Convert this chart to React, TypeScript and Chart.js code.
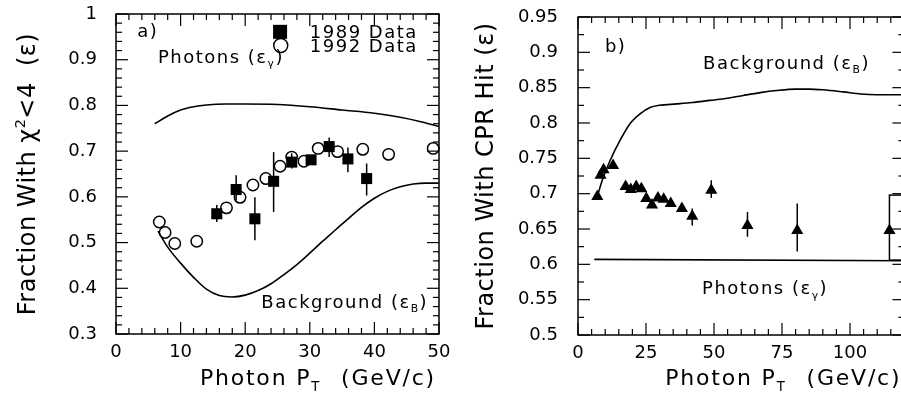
import React, { useEffect, useRef } from "react";
import { Chart, registerables } from "chart.js";

Chart.register(...registerables);

const FONT = '"DejaVu Sans", "Liberation Sans", sans-serif';

// ---------------- Panel a) ----------------
const xTicksA = [0, 10, 20, 30, 40, 50];
const yTicksA = [0.3, 0.4, 0.5, 0.6, 0.7, 0.8, 0.9, 1];

const photonsAX = [6, 8, 10, 12, 14, 17, 20, 25, 30, 35, 40, 44, 47, 50];
const photonsAY = [0.76, 0.777, 0.79, 0.797, 0.801, 0.803, 0.803, 0.802, 0.797, 0.79, 0.783, 0.774, 0.765, 0.754];

const backgroundAX = [6.5, 8, 10, 12, 14, 16, 18, 20, 22, 24, 26, 28, 30, 32, 34, 36, 38, 40, 42, 44, 46, 48, 50];
const backgroundAY = [0.525, 0.49, 0.455, 0.424, 0.398, 0.384, 0.381, 0.385, 0.395, 0.41, 0.43, 0.452, 0.477, 0.503, 0.528, 0.553, 0.577, 0.597, 0.612, 0.622, 0.628, 0.63, 0.63];

const data1989X = [15.6, 18.6, 21.5, 24.4, 27.2, 30.2, 33.0, 35.9, 38.8];
const data1989Y = [0.563, 0.616, 0.552, 0.634, 0.676, 0.681, 0.71, 0.683, 0.64];
const data1989Lo = [0.545, 0.592, 0.505, 0.567, 0.662, 0.67, 0.687, 0.654, 0.603];
const data1989Hi = [0.582, 0.647, 0.599, 0.698, 0.695, 0.69, 0.73, 0.708, 0.673];

const data1992X = [6.7, 7.6, 9.1, 12.5, 17.1, 19.2, 21.2, 23.2, 25.4, 27.2, 29.1, 31.3, 34.3, 38.2, 42.2, 49.1];
const data1992Y = [0.545, 0.522, 0.498, 0.503, 0.576, 0.599, 0.626, 0.64, 0.667, 0.687, 0.678, 0.706, 0.699, 0.704, 0.693, 0.706];

// ---------------- Panel b) ----------------
const xTicksB = [0, 25, 50, 75, 100];
const yTicksB = [0.5, 0.55, 0.6, 0.65, 0.7, 0.75, 0.8, 0.85, 0.9, 0.95];

const backgroundBX = [6.9, 9, 11.8, 15.4, 19.1, 22.8, 26.5, 30, 36.3, 42, 48.5, 55, 60.8, 67, 73, 80, 85, 90, 97.5, 104, 109.8, 115, 120];
const backgroundBY = [0.693, 0.72, 0.747, 0.775, 0.799, 0.813, 0.822, 0.825, 0.827, 0.829, 0.832, 0.835, 0.839, 0.843, 0.846, 0.848, 0.848, 0.847, 0.844, 0.841, 0.84, 0.84, 0.84];

const photonsBX = [6, 120];
const photonsBY = [0.607, 0.605];

const cprX = [7.1, 8.3, 9.4, 12.9, 17.5, 19.4, 21.4, 23.3, 25.1, 27.2, 29.4, 31.5, 34.1, 38.2, 42.0, 49.0, 62.3, 80.6, 114.5];
const cprY = [0.696, 0.726, 0.734, 0.74, 0.71, 0.706, 0.71, 0.707, 0.693, 0.684, 0.694, 0.692, 0.686, 0.679, 0.668, 0.705, 0.655, 0.648, 0.648];
const cprLo = [null, null, null, null, null, null, null, null, null, null, null, null, null, null, 0.655, 0.694, 0.639, 0.618, null];
const cprHi = [null, null, null, null, null, null, null, null, null, null, null, null, null, null, 0.679, 0.719, 0.674, 0.686, null];

const boxBX = [114.5, 126];
const boxBY = [0.606, 0.698];

// ---------------- helpers ----------------
type Part = { t?: string; sub?: boolean; sup?: boolean; gap?: number };

const pts = (xs: number[], ys: number[]) => xs.map((x, i) => ({ x, y: ys[i] }));
const fmt = (v: number) => String(+(+v).toFixed(2));

function drawParts(ctx: CanvasRenderingContext2D, parts: Part[], x: number, baseline: number, size: number, spacing: number, draw = true) {
  let cx = x;
  for (const p of parts) {
    if (p.gap) { cx += p.gap; continue; }
    const small = p.sub || p.sup;
    const fs = small ? size * 0.6 : size;
    ctx.font = `${fs}px ${FONT}`;
    (ctx as any).letterSpacing = `${spacing}px`;
    const dy = p.sub ? size * 0.25 : p.sup ? -size * 0.42 : 0;
    if (draw) ctx.fillText(p.t || "", cx, baseline + dy);
    cx += ctx.measureText(p.t || "").width;
  }
  return cx - x;
}

type Note = { x: number; y: number; parts: Part[] };
type LegendItem = { ds: number; x: number; y: number; textX: number };
type DecorCfg = {
  minorX: number; majorX: number; minorY: number; majorY: number;
  notes: Note[]; legend: LegendItem[];
  box?: { xs: number[]; ys: number[] };
  xTitle: Part[]; yTitle: Part[]; yTitleBaselineX: number; xTitleBaseline: number;
};

function makeDecor(cfg: DecorCfg) {
  return {
    id: "decor",
    beforeDatasetsDraw(chart: any) {
      const ctx: CanvasRenderingContext2D = chart.ctx;
      const { x, y } = chart.scales;
      ctx.save();
      ctx.strokeStyle = "#000";
      ctx.lineWidth = 1.5;
      chart.data.datasets.forEach((ds: any) => {
        if (!ds.errLo) return;
        ds.data.forEach((pt: any, i: number) => {
          const lo = ds.errLo[i], hi = ds.errHi[i];
          if (lo == null || hi == null) return;
          const px = x.getPixelForValue(pt.x);
          ctx.beginPath();
          ctx.moveTo(px, y.getPixelForValue(lo));
          ctx.lineTo(px, y.getPixelForValue(hi));
          ctx.stroke();
        });
      });
      if (cfg.box) {
        const x0 = x.getPixelForValue(cfg.box.xs[0]);
        const x1 = x.getPixelForValue(cfg.box.xs[1]);
        const y0 = y.getPixelForValue(cfg.box.ys[1]);
        const y1 = y.getPixelForValue(cfg.box.ys[0]);
        ctx.strokeRect(x0, y0, x1 - x0, y1 - y0);
      }
      ctx.restore();
    },
    afterDraw(chart: any) {
      const ctx: CanvasRenderingContext2D = chart.ctx;
      const a = chart.chartArea;
      const { x, y } = chart.scales;
      ctx.save();
      ctx.strokeStyle = "#000";
      ctx.fillStyle = "#000";
      ctx.lineWidth = 1.5;
      ctx.strokeRect(a.left, a.top, a.right - a.left, a.bottom - a.top);
      ctx.lineWidth = 1.2;
      const line = (x0: number, y0: number, x1: number, y1: number) => {
        ctx.beginPath(); ctx.moveTo(x0, y0); ctx.lineTo(x1, y1); ctx.stroke();
      };
      const majorLen = 12, minorLen = 6;
      const ticks = (scale: any, minor: number, major: number, horiz: boolean) => {
        const n = Math.round((scale.max - scale.min) / minor);
        for (let i = 0; i <= n; i++) {
          const v = scale.min + i * minor;
          const r = v / major;
          const isMajor = Math.abs(r - Math.round(r)) < 1e-6;
          const L = isMajor ? majorLen : minorLen;
          const p = scale.getPixelForValue(v);
          if (horiz) { line(p, a.bottom, p, a.bottom - L); line(p, a.top, p, a.top + L); }
          else { line(a.left, p, a.left + L, p); line(a.right, p, a.right - L, p); }
        }
      };
      ticks(x, cfg.minorX, cfg.majorX, true);
      ticks(y, cfg.minorY, cfg.majorY, false);

      // notes
      const noteSize = 18, noteSpacing = 1.5;
      ctx.textAlign = "left";
      ctx.textBaseline = "alphabetic";
      cfg.notes.forEach((n) => {
        const px = x.getPixelForValue(n.x);
        const base = y.getPixelForValue(n.y) + noteSize * 0.36;
        drawParts(ctx, n.parts, px, base, noteSize, noteSpacing);
      });

      // legend
      cfg.legend.forEach((it) => {
        const ds = chart.data.datasets[it.ds];
        const px = x.getPixelForValue(it.x);
        const py = y.getPixelForValue(it.y);
        if (ds.pointStyle === "rect") {
          ctx.fillRect(px - 7, py - 7, 14, 14);
        } else {
          ctx.lineWidth = 1.5;
          ctx.beginPath(); ctx.arc(px, py, 7, 0, Math.PI * 2); ctx.stroke();
        }
        const tx = x.getPixelForValue(it.textX);
        drawParts(ctx, [{ t: ds.label }], tx, py + noteSize * 0.36, noteSize, noteSpacing);
      });

      // x title (right aligned to plot)
      const tSize = 22, tSpacing = 1.8;
      const w = drawParts(ctx, cfg.xTitle, 0, 0, tSize, tSpacing, false);
      drawParts(ctx, cfg.xTitle, a.right - 3 - w, cfg.xTitleBaseline, tSize, tSpacing);

      // y title (rotated, centred on plot)
      const ySize = 24, ySpacing = 0.5;
      const wy = drawParts(ctx, cfg.yTitle, 0, 0, ySize, ySpacing, false);
      ctx.translate(cfg.yTitleBaselineX, (a.top + a.bottom) / 2);
      ctx.rotate(-Math.PI / 2);
      drawParts(ctx, cfg.yTitle, -wy / 2, 0, ySize, ySpacing);
      ctx.restore();
    },
  };
}

const tickFont = { family: FONT, size: 18 };

function makeScales(xMin: number, xMax: number, xTicks: number[], yMin: number, yMax: number, yTicks: number[], yWidth: number, xHeight: number, yPad: number) {
  return {
    x: {
      type: "linear",
      min: xMin,
      max: xMax,
      afterBuildTicks: (s: any) => { s.ticks = xTicks.map((v) => ({ value: v })); },
      afterFit: (s: any) => { s.height = xHeight; },
      grid: { display: false, drawTicks: true, tickLength: 8 },
      border: { display: false },
      ticks: { padding: 0, color: "#000", font: tickFont, maxRotation: 0, callback: (v: any) => fmt(v) },
    },
    y: {
      type: "linear",
      min: yMin,
      max: yMax,
      afterBuildTicks: (s: any) => { s.ticks = yTicks.map((v) => ({ value: v })); },
      afterFit: (s: any) => { s.width = yWidth; },
      grid: { display: false, drawTicks: true, tickLength: yPad },
      border: { display: false },
      ticks: { padding: 0, color: "#000", font: tickFont, callback: (v: any) => fmt(v) },
    },
  };
}

const xTitleParts: Part[] = [{ t: "Photon P" }, { t: "T", sub: true }, { gap: 20 }, { t: "(GeV/c)" }];

function configA(): any {
  return {
    type: "scatter",
    data: {
      datasets: [
        { label: "1989 Data", data: pts(data1989X, data1989Y), errLo: data1989Lo, errHi: data1989Hi, pointStyle: "rect", pointRadius: 7.8, backgroundColor: "#000", borderColor: "#000", borderWidth: 0, clip: false },
        { label: "1992 Data", data: pts(data1992X, data1992Y), pointStyle: "circle", pointRadius: 5.7, backgroundColor: "rgba(0,0,0,0)", borderColor: "#000", borderWidth: 1.5, clip: false },
        { label: "Photons", data: pts(photonsAX, photonsAY), showLine: true, pointRadius: 0, borderColor: "#000", borderWidth: 1.6, cubicInterpolationMode: "monotone", fill: false },
        { label: "Background", data: pts(backgroundAX, backgroundAY), showLine: true, pointRadius: 0, borderColor: "#000", borderWidth: 1.6, cubicInterpolationMode: "monotone", fill: false },
      ],
    },
    options: {
      responsive: false,
      animation: false,
      events: [],
      layout: { padding: { left: 0, right: 21, top: 14, bottom: 0 } },
      plugins: { legend: { display: false }, tooltip: { enabled: false } },
      scales: makeScales(0, 50, xTicksA, 0.3, 1, yTicksA, 116, 63, 19),
    },
    plugins: [
      makeDecor({
        minorX: 2, majorX: 10, minorY: 0.02, majorY: 0.1,
        notes: [
          { x: 3.3, y: 0.963, parts: [{ t: "a)" }] },
          { x: 6.5, y: 0.907, parts: [{ t: "Photons (ε" }, { t: "γ", sub: true }, { t: ")" }] },
          { x: 22.5, y: 0.372, parts: [{ t: "Background (ε" }, { t: "B", sub: true }, { t: ")" }] },
        ],
        legend: [
          { ds: 0, x: 25.4, y: 0.961, textX: 30 },
          { ds: 1, x: 25.5, y: 0.931, textX: 30 },
        ],
        xTitle: xTitleParts,
        yTitle: [{ t: "Fraction With χ" }, { t: "2", sup: true }, { t: "<4  (ε)" }],
        yTitleBaselineX: 35,
        xTitleBaseline: 385,
      }),
    ],
  };
}

function configB(): any {
  return {
    type: "scatter",
    data: {
      datasets: [
        { label: "CPR", data: pts(cprX, cprY), errLo: cprLo, errHi: cprHi, pointStyle: "triangle", pointRadius: 7, backgroundColor: "#000", borderColor: "#000", borderWidth: 0, clip: false },
        { label: "Background", data: pts(backgroundBX, backgroundBY), showLine: true, pointRadius: 0, borderColor: "#000", borderWidth: 1.6, cubicInterpolationMode: "monotone", fill: false },
        { label: "Photons", data: pts(photonsBX, photonsBY), showLine: true, pointRadius: 0, borderColor: "#000", borderWidth: 1.6, fill: false },
      ],
    },
    options: {
      responsive: false,
      animation: false,
      events: [],
      layout: { padding: { left: 0, right: 25.6, top: 17, bottom: 0 } },
      plugins: { legend: { display: false }, tooltip: { enabled: false } },
      scales: makeScales(0, 120, xTicksB, 0.5, 0.95, yTicksB, 118, 62, 20),
    },
    plugins: [
      makeDecor({
        minorX: 5, majorX: 25, minorY: 0.025, majorY: 0.05,
        notes: [
          { x: 9.9, y: 0.91, parts: [{ t: "b)" }] },
          { x: 46, y: 0.886, parts: [{ t: "Background (ε" }, { t: "B", sub: true }, { t: ")" }] },
          { x: 45.6, y: 0.567, parts: [{ t: "Photons (ε" }, { t: "γ", sub: true }, { t: ")" }] },
        ],
        legend: [],
        box: { xs: boxBX, ys: boxBY },
        xTitle: xTitleParts,
        yTitle: [{ t: "Fraction With CPR Hit (ε)" }],
        yTitleBaselineX: 33,
        xTitleBaseline: 385,
      }),
    ],
  };
}

export default function App() {
  const refA = useRef<HTMLCanvasElement>(null);
  const refB = useRef<HTMLCanvasElement>(null);
  useEffect(() => {
    const a = new Chart(refA.current as HTMLCanvasElement, configA());
    const b = new Chart(refB.current as HTMLCanvasElement, configB());
    return () => { a.destroy(); b.destroy(); };
  }, []);
  return (
    <div style={{ position: "fixed", left: 0, top: 0, width: 901, height: 397, overflow: "hidden", background: "#fff" }}>
      <canvas ref={refA} width={460} height={397} style={{ position: "absolute", left: 0, top: 0, width: 460, height: 397 }} />
      <canvas ref={refB} width={470} height={397} style={{ position: "absolute", left: 460, top: 0, width: 470, height: 397 }} />
    </div>
  );
}
